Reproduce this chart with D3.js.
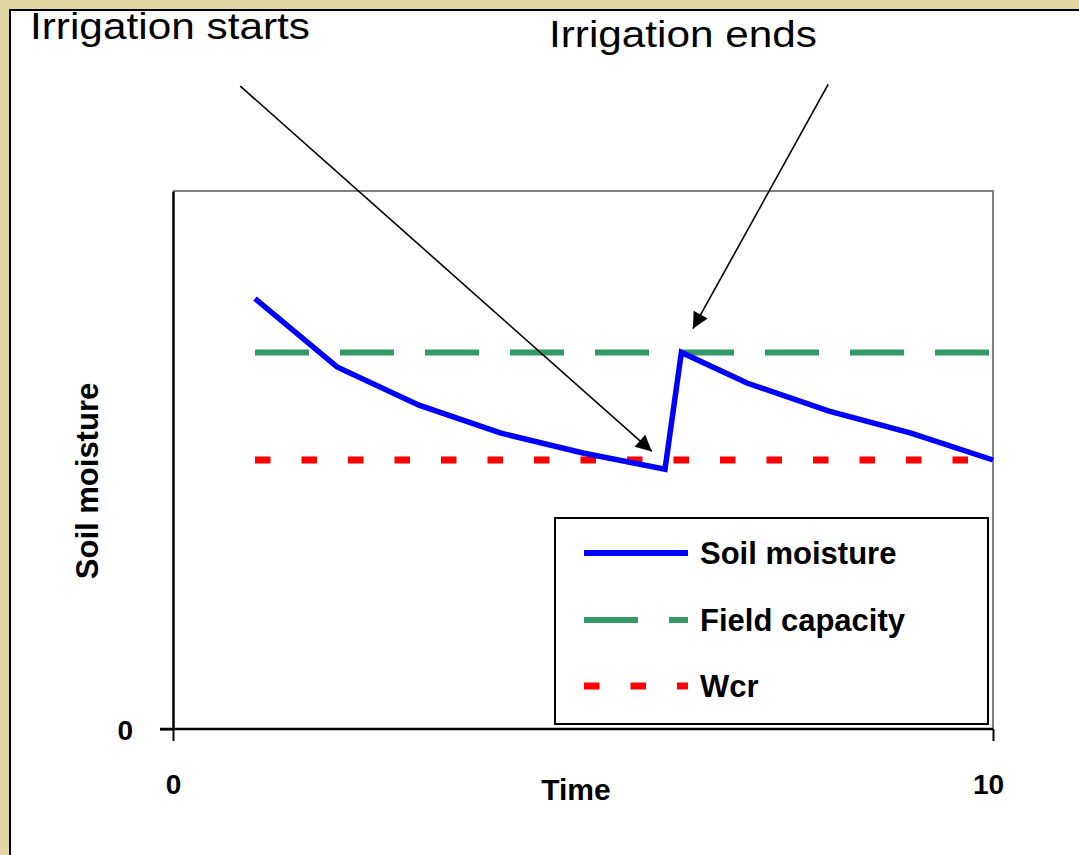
<!DOCTYPE html>
<html>
<head>
<meta charset="utf-8">
<script src="https://cdn.jsdelivr.net/npm/d3@7"></script>
<style>
  html, body { margin: 0; padding: 0; background: #e1d5a3; }
  svg { display: block; font-family: "Liberation Sans", Arial, sans-serif; }
</style>
</head>
<body>
<div id="chart"></div>
<script>
// soil moisture curve
const time = [1, 2, 3, 4, 5, 6, 6.2, 7, 8, 9, 10];
const moisture = [80, 67.3, 60.2, 55, 51.3, 48.3, 70, 64.3, 59.1, 55, 50];

// constant reference levels
const fieldCapacity = 70;
const wcr = 50;
const levelSpan = [1, 10];

const xTicks = [0, 10];
const yTicks = [0];

const seriesNames = ["Soil moisture", "Field capacity", "Wcr"];
const seriesColors = ["#0000ff", "#339966", "#ff0000"];
const seriesDash = [null, "54 31", "15.5 31"];

// annotation arrows in data units: [startT, startY, tipT, tipY]
const notes = [
  { label: "Irrigation starts", from: [0.82, 119.5], to: [5.84, 51.6] },
  { label: "Irrigation ends", from: [7.99, 119.8], to: [6.34, 74.4] }
];

const W = 1079, H = 855;
const margin = { left: 173, right: 86, top: 191, bottom: 126 };

const svg = d3.select("#chart").append("svg")
  .attr("width", W)
  .attr("height", H);

// beige page + white panel
svg.append("rect").attr("width", W).attr("height", H).attr("fill", "#e1d5a3");
svg.append("rect")
  .attr("x", 10).attr("y", 10)
  .attr("width", W + 20).attr("height", H + 20)
  .attr("fill", "#fff")
  .attr("stroke", "#000")
  .attr("stroke-width", 2);

const x = d3.scaleLinear().domain([0, 10]).range([margin.left, W - margin.right]);
const y = d3.scaleLinear().domain([0, 100]).range([H - margin.bottom, margin.top]);

// plot frame (grey top / right)
svg.append("path")
  .attr("d", `M${x(0)},${y(100)}H${x(10)}V${y(0)}`)
  .attr("fill", "none")
  .attr("stroke", "#808080")
  .attr("stroke-width", 2);

// axes
const xAxis = svg.append("g")
  .attr("transform", `translate(0,${y(0)})`)
  .call(d3.axisBottom(x).tickValues(xTicks).tickSize(12).tickSizeOuter(0).tickFormat(d3.format("d")));
xAxis.select(".domain").attr("d", `M${x(0) - 13},0H${x(10)}`).attr("stroke-width", 2.5);
xAxis.selectAll(".tick line").attr("stroke-width", 2);
xAxis.selectAll(".tick text")
  .attr("y", 65).attr("dy", 0)
  .attr("font-size", 28).attr("font-weight", "bold")
  .attr("font-family", "Liberation Sans, Arial, sans-serif");
xAxis.selectAll(".tick").filter(d => d === 10).select("text").attr("dx", -5);

const yAxis = svg.append("g")
  .attr("transform", `translate(${x(0)},0)`)
  .call(d3.axisLeft(y).tickValues(yTicks).tickSize(13).tickSizeOuter(0).tickFormat(d3.format("d")));
yAxis.select(".domain").attr("stroke-width", 2.5);
yAxis.selectAll(".tick line").attr("stroke-width", 2);
yAxis.selectAll(".tick text")
  .attr("x", -40).attr("dy", "0.36em")
  .attr("font-size", 28).attr("font-weight", "bold")
  .attr("font-family", "Liberation Sans, Arial, sans-serif");

// axis titles
svg.append("text")
  .attr("x", (x(0) + x(10)) / 2 - 7)
  .attr("y", 800)
  .attr("text-anchor", "middle")
  .attr("font-size", 30)
  .attr("font-weight", "bold")
  .text("Time");

svg.append("text")
  .attr("transform", `translate(98,${(y(0) + y(100)) / 2 + 21}) rotate(-90)`)
  .attr("text-anchor", "middle")
  .attr("font-size", 31)
  .attr("font-weight", "bold")
  .text("Soil moisture");

// reference levels
const levelLine = d3.line().x(d => x(d[0])).y(d => y(d[1]));
svg.append("path")
  .attr("d", levelLine(levelSpan.map(t => [t, fieldCapacity])))
  .attr("fill", "none")
  .attr("stroke", seriesColors[1])
  .attr("stroke-width", 6)
  .attr("stroke-dasharray", seriesDash[1]);
svg.append("path")
  .attr("d", levelLine(levelSpan.map(t => [t, wcr])))
  .attr("fill", "none")
  .attr("stroke", seriesColors[2])
  .attr("stroke-width", 7)
  .attr("stroke-dasharray", seriesDash[2]);

// soil moisture line
const line = d3.line().x((d, i) => x(time[i])).y(d => y(d));
svg.append("path")
  .attr("d", line(moisture))
  .attr("fill", "none")
  .attr("stroke", seriesColors[0])
  .attr("stroke-width", 5.5)
  .attr("stroke-linejoin", "miter");

// legend
const legend = svg.append("g");
legend.append("rect")
  .attr("x", 555).attr("y", 518)
  .attr("width", 433).attr("height", 206)
  .attr("fill", "#fff")
  .attr("stroke", "#000")
  .attr("stroke-width", 2);
const rowY = [553, 620, 686];
seriesNames.forEach((name, i) => {
  legend.append("line")
    .attr("x1", 584).attr("x2", 688)
    .attr("y1", rowY[i]).attr("y2", rowY[i])
    .attr("stroke", seriesColors[i])
    .attr("stroke-width", i === 2 ? 7 : 6)
    .attr("stroke-dasharray", seriesDash[i]);
  legend.append("text")
    .attr("x", 700)
    .attr("y", rowY[i] + 11)
    .attr("font-size", 31)
    .attr("font-weight", "bold")
    .text(name);
});

// annotations with arrows
svg.append("defs").append("marker")
  .attr("id", "arrow")
  .attr("viewBox", "0 0 10 10")
  .attr("refX", 10).attr("refY", 5)
  .attr("markerWidth", 12).attr("markerHeight", 10)
  .attr("markerUnits", "strokeWidth")
  .attr("orient", "auto")
  .append("path")
  .attr("d", "M0,0L10,5L0,10Z")
  .attr("fill", "#000");

notes.forEach(n => {
  svg.append("line")
    .attr("x1", x(n.from[0])).attr("y1", y(n.from[1]))
    .attr("x2", x(n.to[0])).attr("y2", y(n.to[1]))
    .attr("stroke", "#000")
    .attr("stroke-width", 1.6)
    .attr("marker-end", "url(#arrow)");
});

svg.append("text")
  .attr("x", 30).attr("y", 39)
  .attr("font-size", 36)
  .attr("textLength", 280)
  .attr("lengthAdjust", "spacingAndGlyphs")
  .text(notes[0].label);
svg.append("text")
  .attr("x", 549).attr("y", 47)
  .attr("font-size", 36)
  .attr("textLength", 268)
  .attr("lengthAdjust", "spacingAndGlyphs")
  .text(notes[1].label);
</script>
</body>
</html>
